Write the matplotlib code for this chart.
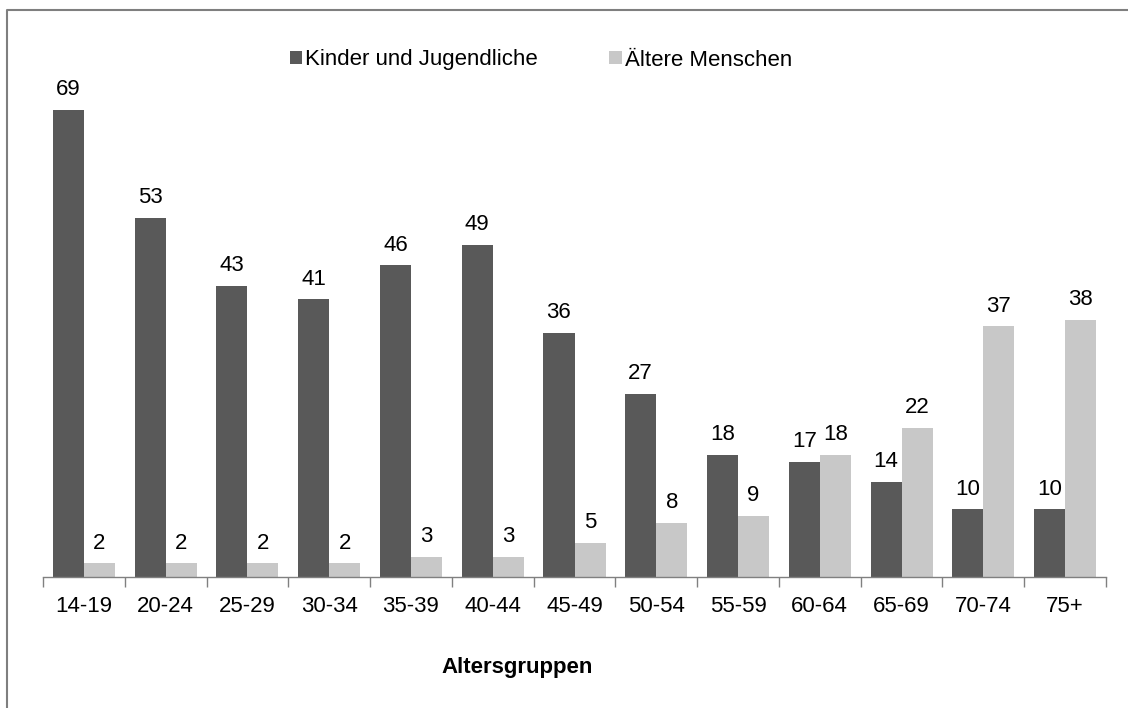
import matplotlib
matplotlib.use("Agg")
import matplotlib.pyplot as plt
import numpy as np
from matplotlib.lines import Line2D

plt.rcParams['font.family'] = ['Liberation Sans', 'DejaVu Sans']

groups = ['14-19', '20-24', '25-29', '30-34', '35-39', '40-44', '45-49',
          '50-54', '55-59', '60-64', '65-69', '70-74', '75+']
kinder = [69, 53, 43, 41, 46, 49, 36, 27, 18, 17, 14, 10, 10]
aeltere = [2, 2, 2, 2, 3, 3, 5, 8, 9, 18, 22, 37, 38]
series_names = ['Kinder und Jugendliche', 'Ältere Menschen']

DARK = '#595959'
LIGHT = '#c8c8c8'
FS = 16

fig = plt.figure(figsize=(11.28, 7.08), dpi=100)
ax = fig.add_axes([43 / 1128, 131 / 708, (1106 - 43) / 1128, 542 / 708])

x = np.arange(len(groups))
w = 0.38
b1 = ax.bar(x - w / 2, kinder, w, color=DARK, label=series_names[0])
b2 = ax.bar(x + w / 2, aeltere, w, color=LIGHT, label=series_names[1])

for bars, vals in ((b1, kinder), (b2, aeltere)):
    for rect, v in zip(bars, vals):
        ax.annotate(str(v), xy=(rect.get_x() + rect.get_width() / 2, v),
                    xytext=(0, 7), textcoords='offset points',
                    ha='center', va='bottom', fontsize=FS, color='black')

ax.set_xlim(-0.5, len(groups) - 0.5)
ax.set_ylim(0, 80)
ax.set_xticks(x)
ax.set_xticklabels(groups, fontsize=FS)
ax.set_xticks(np.arange(len(groups) + 1) - 0.5, minor=True)
ax.tick_params(axis='x', which='major', length=0, pad=14)
ax.tick_params(axis='x', which='minor', length=7, width=1, color='#808080')
ax.set_yticks([])
for s in ('top', 'right', 'left'):
    ax.spines[s].set_visible(False)
ax.spines['bottom'].set_color('#808080')
ax.spines['bottom'].set_linewidth(1)

fig.text(517 / 1128, 1 - 667 / 708, 'Altersgruppen', fontsize=FS,
         fontweight='bold', ha='center', va='center')

ax.legend(loc='center', bbox_to_anchor=(541 / 1128, 1 - 60 / 708),
          bbox_transform=fig.transFigure, ncol=2, frameon=False,
          fontsize=FS, handlelength=0.55, handleheight=0.55,
          handletextpad=0.15, columnspacing=3.2, borderpad=0)

# Rahmen (links und oben sichtbar)
fig.add_artist(Line2D([7 / 1128, 7 / 1128, 1], [0, 1 - 10 / 708, 1 - 10 / 708],
                      transform=fig.transFigure, color='#7f7f7f', linewidth=1.5))

fig.savefig('out.png', dpi=100)
